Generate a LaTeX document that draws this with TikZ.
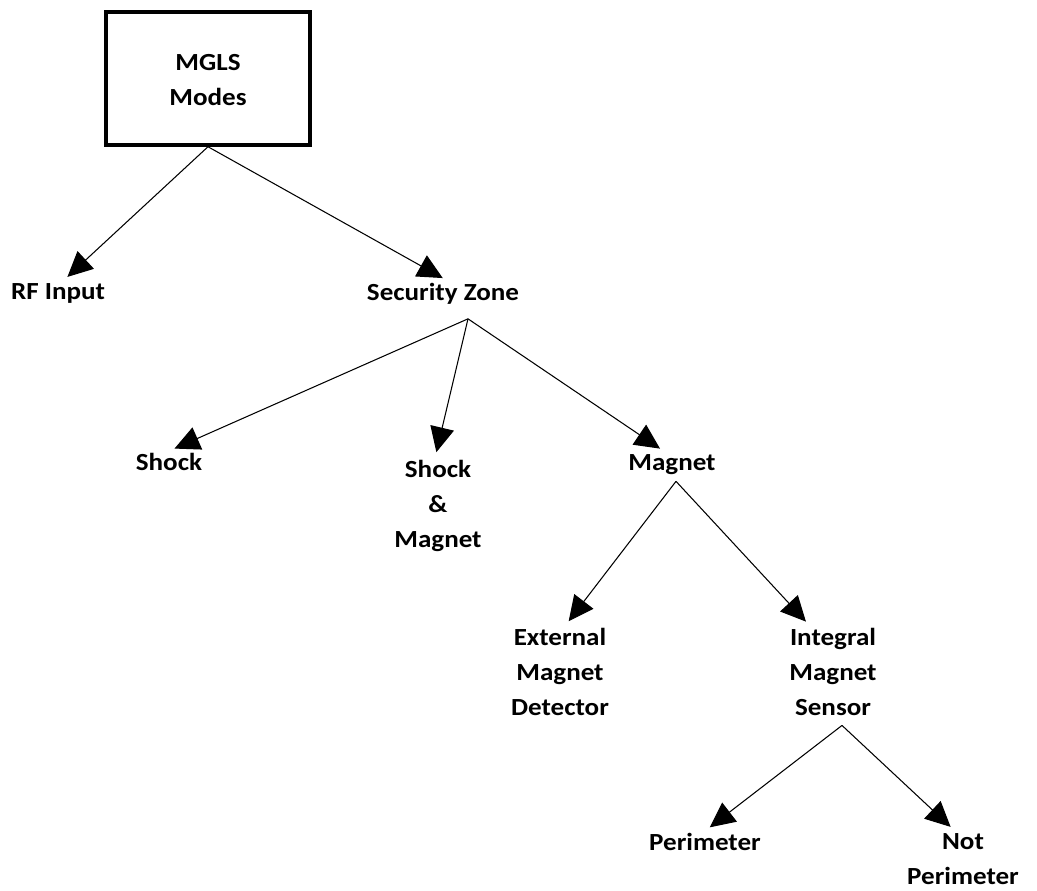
\documentclass[tikz,border=0pt]{standalone}
\usepackage{fontspec}
\setmainfont{Carlito}[FakeStretch=1.1]
\usetikzlibrary{arrows.meta}
\tikzset{
  mode/.style={font=\bfseries\fontsize{14}{20}\selectfont, align=center, inner sep=1pt, anchor=north},
  modebox/.style={draw, line width=2pt, minimum width=4.08cm, minimum height=2.66cm, inner sep=0pt},
  branch/.style={line width=0.6pt, -{Triangle[length=0.5cm,width=0.48cm]}, shorten >=0.12cm},
}

\begin{document}
\begin{tikzpicture}[x=0.02cm, y=-0.02cm]
	\useasboundingbox (0,0) rectangle (1037,891);
	% Boxes and labels:
	\node[modebox] (mgls) at (208,78.5){};
	\node[mode] (mglstext) at (208,52){MGLS\\Modes};
	\node[mode] (rf) at (58,281){RF Input};
	\node[mode] (zone) at (443,281){Security Zone};
	\node[mode] (shock) at (169,451){Shock};
	\node[mode] (both) at (438,458){Shock\\\&\\Magnet};
	\node[mode] (magnet) at (672,452){Magnet};
	\node[mode] (external) at (560,626){External\\Magnet\\Detector};
	\node[mode] (integral) at (833,626){Integral\\Magnet\\Sensor};
	\node[mode] (perim) at (705,831){Perimeter};
	\node[mode] (notperim) at (963,831){Not\\Perimeter};
	% Arrows:
	\draw[branch] (mgls.south) -- ([xshift=0.1cm]rf.north);
	\draw[branch] (mgls.south) -- ([xshift=0.1cm]zone.north);
	\draw[branch] ([xshift=0.5cm,yshift=-0.25cm]zone.south) -- (shock.north);
	\draw[branch] ([xshift=0.5cm,yshift=-0.25cm]zone.south) -- ([xshift=-0.06cm]both.north);
	\draw[branch] ([xshift=0.5cm,yshift=-0.25cm]zone.south) -- ([xshift=-0.14cm]magnet.north);
	\draw[branch] ([xshift=0.08cm,yshift=-0.1cm]magnet.south) -- ([xshift=0.1cm]external.north);
	\draw[branch] ([xshift=0.08cm,yshift=-0.1cm]magnet.south) -- ([xshift=-0.46cm]integral.north);
	\draw[branch] ([xshift=0.18cm,yshift=-0.15cm]integral.south) -- (perim.north);
	\draw[branch] ([xshift=0.18cm,yshift=-0.15cm]integral.south) -- ([xshift=-0.16cm]notperim.north);
\end{tikzpicture}
\end{document}
